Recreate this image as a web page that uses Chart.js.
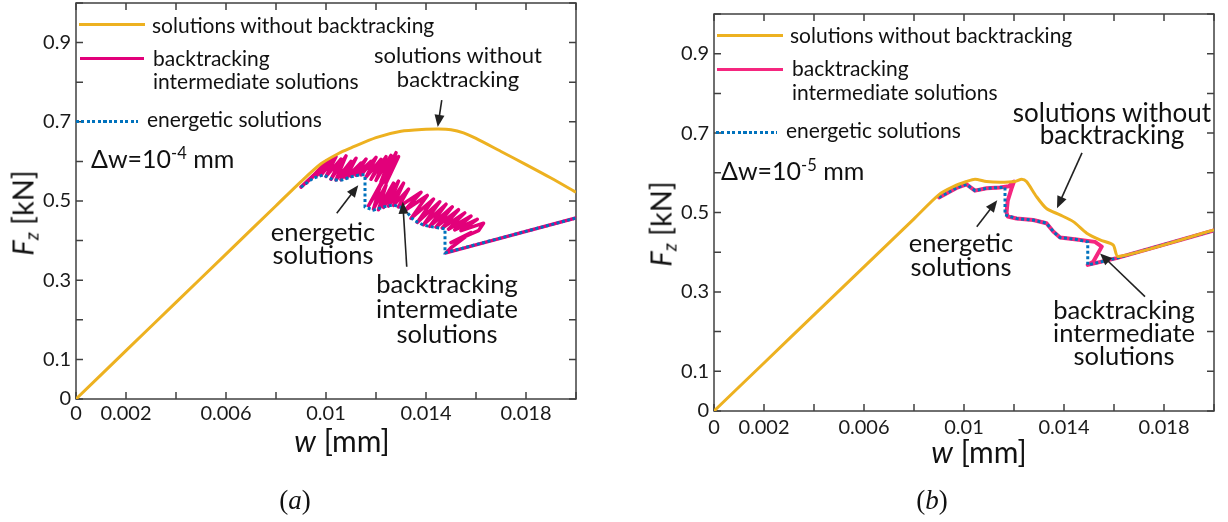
<!DOCTYPE html>
<html>
<head>
<meta charset="utf-8">
<script src="https://cdn.jsdelivr.net/npm/chart.js@4.4.0/dist/chart.umd.min.js"></script>
<style>
  body { margin: 0; background: #fff; }
  #wrap { position: relative; width: 1228px; height: 522px; overflow: hidden; font-family: Lato, sans-serif; color: #111; }
  canvas { position: absolute; top: 0; }
  .t { position: absolute; white-space: nowrap; line-height: 1; }
  .c { transform: translate(-50%, -50%); text-align: center; }
  .l { transform: translateY(-50%); }
  .key { position: absolute; height: 3px; }
  .orange { background: #EDB120; }
  .pinkA { background: #E2007A; }
  .pinkB { background: #F5267F; }
  .dots { background: repeating-linear-gradient(90deg, #0072BD 0 3px, transparent 3px 5.5px); }
  .serif { font-family: "Liberation Serif", serif; font-size: 27px; }
  .ylab { transform: translate(-50%, -50%) rotate(-90deg); }
  sup { font-size: 0.66em; vertical-align: 0.5em; line-height: 0; }
  sub { font-size: 0.65em; vertical-align: -0.25em; line-height: 0; }
</style>
</head>
<body>
<div id="wrap">
  <canvas id="chartA" width="614" height="522" style="left:0"></canvas>
  <canvas id="chartB" width="614" height="522" style="left:614px"></canvas>

  <!-- panel (a) legend and notes -->
  <div class="key orange" style="left:79px; top:23px; width:66px"></div>
  <div class="t l" style="left:152px; top:24px; font-size:21px">solutions without backtracking</div>
  <div class="key pinkA" style="left:80px; top:57px; width:64px"></div>
  <div class="t l" style="left:153px; top:69px; font-size:21px; line-height:23px">backtracking<br>intermediate solutions</div>
  <div class="key dots" style="left:76px; top:120px; width:62px"></div>
  <div class="t l" style="left:147px; top:118px; font-size:21px">energetic solutions</div>
  <div class="t l" style="left:91px; top:158px; font-size:25px">&Delta;w=10<sup>-4</sup> mm</div>

  <div class="t c" style="left:458px; top:67px; font-size:22px; line-height:24px">solutions without<br>backtracking</div>
  <div class="t c" style="left:323px; top:243px; font-size:25.5px; line-height:23px">energetic<br>solutions</div>
  <div class="t c" style="left:447px; top:308px; font-size:25.5px; line-height:25px">backtracking<br>intermediate<br>solutions</div>

  <div class="t c" style="left:342px; top:440px; font-size:30px"><i>w</i> [mm]</div>
  <div class="t ylab" style="left:22px; top:213px; font-size:29px"><i>F<sub>z</sub></i> [kN]</div>
  <div class="t c serif" style="left:295px; top:500px">(<i>a</i>)</div>

  <!-- panel (b) legend and notes -->
  <div class="key orange" style="left:717px; top:34px; width:66px"></div>
  <div class="t l" style="left:790px; top:34px; font-size:21px">solutions without backtracking</div>
  <div class="key pinkB" style="left:717px; top:68px; width:66px"></div>
  <div class="t l" style="left:792px; top:80px; font-size:21px; line-height:24px">backtracking<br>intermediate solutions</div>
  <div class="key dots" style="left:716px; top:131px; width:61px"></div>
  <div class="t l" style="left:786px; top:129px; font-size:21px">energetic solutions</div>
  <div class="t l" style="left:721px; top:170px; font-size:25px">&Delta;w=10<sup>-5</sup> mm</div>

  <div class="t c" style="left:1112px; top:123px; font-size:26px; line-height:22px">solutions without<br>backtracking</div>
  <div class="t c" style="left:961px; top:254px; font-size:25.5px; line-height:24px">energetic<br>solutions</div>
  <div class="t c" style="left:1124px; top:332px; font-size:25.5px; line-height:23px">backtracking<br>intermediate<br>solutions</div>

  <div class="t c" style="left:979px; top:451px; font-size:30px"><i>w</i> [mm]</div>
  <div class="t ylab" style="left:660px; top:224px; font-size:29px"><i>F<sub>z</sub></i> [kN]</div>
  <div class="t c serif" style="left:932px; top:500px">(<i>b</i>)</div>
</div>

<script>
// tick labels (empty = minor tick only)
const xTickLabels = ['0', '0.002', '', '0.006', '', '0.01', '', '0.014', '', '0.018', ''];
const yTickLabels = ['0', '0.1', '', '0.3', '', '0.5', '', '0.7', '', '0.9', ''];

// (a)  dw = 1e-4 mm
const orangeAw = [0, 0.002, 0.004, 0.006, 0.008, 0.009, 0.0098, 0.0105, 0.011, 0.012, 0.013, 0.014, 0.0145, 0.015, 0.0155, 0.016, 0.017, 0.018, 0.019, 0.02];
const orangeAF = [0, 0.122, 0.244, 0.366, 0.488, 0.549, 0.594, 0.620, 0.634, 0.660, 0.676, 0.681, 0.682, 0.680, 0.672, 0.658, 0.625, 0.592, 0.558, 0.522];

const blueAw = [0.0090, 0.0095, 0.0099, 0.0103, 0.01064, 0.0110, 0.01136, 0.01156, 0.01156, 0.0119, 0.0123, 0.0127, 0.0131, 0.0135, 0.0139, 0.0143, 0.01476, 0.01476, 0.0200];
const blueAF = [0.535, 0.558, 0.566, 0.553, 0.553, 0.561, 0.566, 0.566, 0.485, 0.477, 0.485, 0.490, 0.482, 0.452, 0.439, 0.434, 0.430, 0.369, 0.457];

const pinkAw = [
  0.0090, 0.0095, 0.0092, 0.0098, 0.0094, 0.0100, 0.0096, 0.0102, 0.0098, 0.0104, 0.0100, 0.0106, 0.0102, 0.0108,
  0.0104, 0.0110, 0.0106, 0.0112, 0.0108, 0.0114, 0.0110, 0.0116, 0.0112, 0.0118, 0.0114, 0.0120,
  0.0116, 0.0122, 0.0118, 0.0124, 0.0120, 0.0126, 0.0122, 0.0128, 0.0124, 0.0129,
  0.0117, 0.0122, 0.0119, 0.0124, 0.0121, 0.0127, 0.0123, 0.0129, 0.0125, 0.0131, 0.0127, 0.0133,
  0.0129, 0.0138, 0.01315, 0.01405, 0.0134, 0.0143, 0.01365, 0.01455, 0.0139, 0.0148, 0.01415, 0.01505,
  0.0144, 0.0153, 0.01465, 0.01555, 0.0149, 0.0158, 0.01515, 0.01605, 0.0154, 0.0163,
  0.0161, 0.0150, 0.0158, 0.0150, 0.0148, 0.0200];
const pinkAF = [
  0.535, 0.565, 0.545, 0.585, 0.556, 0.600, 0.562, 0.605, 0.565, 0.612, 0.562, 0.606, 0.555, 0.614,
  0.553, 0.600, 0.554, 0.608, 0.558, 0.596, 0.562, 0.606, 0.565, 0.600, 0.566, 0.610,
  0.560, 0.605, 0.555, 0.612, 0.552, 0.615, 0.548, 0.622, 0.545, 0.612,
  0.488, 0.545, 0.480, 0.540, 0.478, 0.545, 0.484, 0.550, 0.487, 0.545, 0.489, 0.530,
  0.485, 0.522, 0.476, 0.514, 0.456, 0.505, 0.446, 0.498, 0.440, 0.492, 0.436, 0.485,
  0.434, 0.478, 0.432, 0.470, 0.429, 0.462, 0.427, 0.454, 0.425, 0.444,
  0.425, 0.395, 0.420, 0.382, 0.369, 0.457];

// (b)  dw = 1e-5 mm
const orangeBw = [0, 0.002, 0.004, 0.006, 0.008, 0.009, 0.00957, 0.0101, 0.01044, 0.0109, 0.01144, 0.01204, 0.01231, 0.0125, 0.0129, 0.0133, 0.01384, 0.01437, 0.01491, 0.01544, 0.01597, 0.01617, 0.02];
const orangeBF = [0, 0.121, 0.242, 0.363, 0.484, 0.545, 0.565, 0.578, 0.584, 0.578, 0.576, 0.578, 0.584, 0.578, 0.540, 0.510, 0.494, 0.477, 0.448, 0.431, 0.418, 0.389, 0.456];

const blueBw = [0.0090, 0.0097, 0.0101, 0.01044, 0.0109, 0.01144, 0.01164, 0.01164, 0.0121, 0.01277, 0.0133, 0.01357, 0.01384, 0.01451, 0.01495, 0.01495, 0.0161, 0.0200];
const blueBF = [0.538, 0.562, 0.571, 0.555, 0.561, 0.563, 0.563, 0.494, 0.485, 0.481, 0.473, 0.452, 0.437, 0.432, 0.426, 0.368, 0.385, 0.455];

const pinkBw = [0.0090, 0.0097, 0.0101, 0.01044, 0.0109, 0.01144, 0.0118, 0.0120, 0.0119, 0.01175, 0.0117, 0.01175, 0.0121, 0.01277, 0.0133, 0.01357, 0.01384, 0.01451, 0.01524, 0.01551, 0.01517, 0.01495, 0.0161, 0.0200];
const pinkBF = [0.538, 0.562, 0.571, 0.555, 0.561, 0.563, 0.566, 0.578, 0.560, 0.530, 0.500, 0.490, 0.485, 0.481, 0.473, 0.452, 0.437, 0.432, 0.426, 0.414, 0.376, 0.368, 0.385, 0.455];

// annotation arrows, [w tail, F tail, w tip, F tip]
const arrowsA = [[0.01463, 0.755, 0.01447, 0.687], [0.01043, 0.469, 0.01129, 0.540], [0.01323, 0.334, 0.01307, 0.498]];
const arrowsB = [[0.01472, 0.650, 0.01372, 0.511], [0.01051, 0.464, 0.01133, 0.531], [0.01724, 0.288, 0.01544, 0.397]];

const ORANGE = '#EDB120', BLUE = '#0072BD';

const pts = (ws, fs) => ws.map((w, i) => ({ x: w, y: fs[i] }));

const framePlugin = {
  id: 'frame',
  beforeDatasetsDraw(chart) {
    const { ctx, chartArea: a, scales: { x, y } } = chart;
    ctx.save();
    ctx.strokeStyle = '#404040';
    ctx.lineWidth = 1.5;
    ctx.strokeRect(a.left, a.top, a.right - a.left, a.bottom - a.top);
    ctx.beginPath();
    x.ticks.forEach(t => {
      const p = x.getPixelForValue(t.value);
      ctx.moveTo(p, a.bottom); ctx.lineTo(p, a.bottom - 7);
      ctx.moveTo(p, a.top); ctx.lineTo(p, a.top + 7);
    });
    y.ticks.forEach(t => {
      const p = y.getPixelForValue(t.value);
      ctx.moveTo(a.left, p); ctx.lineTo(a.left + 7, p);
      ctx.moveTo(a.right, p); ctx.lineTo(a.right - 7, p);
    });
    ctx.stroke();
    ctx.restore();
  },
  afterDatasetsDraw(chart, args, opts) {
    const { ctx, scales: { x, y } } = chart;
    ctx.save();
    ctx.strokeStyle = '#222';
    ctx.fillStyle = '#222';
    ctx.lineWidth = 1.6;
    (opts.arrows || []).forEach(([w1, f1, w2, f2]) => {
      const x1 = x.getPixelForValue(w1), y1 = y.getPixelForValue(f1);
      const x2 = x.getPixelForValue(w2), y2 = y.getPixelForValue(f2);
      const ang = Math.atan2(y2 - y1, x2 - x1);
      const L = 12, W = 5;
      ctx.beginPath();
      ctx.moveTo(x1, y1);
      ctx.lineTo(x2 - L * 0.8 * Math.cos(ang), y2 - L * 0.8 * Math.sin(ang));
      ctx.stroke();
      ctx.beginPath();
      ctx.moveTo(x2, y2);
      ctx.lineTo(x2 - L * Math.cos(ang) + W * Math.sin(ang), y2 - L * Math.sin(ang) - W * Math.cos(ang));
      ctx.lineTo(x2 - L * Math.cos(ang) - W * Math.sin(ang), y2 - L * Math.sin(ang) + W * Math.cos(ang));
      ctx.closePath();
      ctx.fill();
    });
    ctx.restore();
  }
};

Chart.defaults.font.family = 'Lato';
Chart.defaults.color = '#1a1a1a';

function makeChart(id, data, pink, arrows, padding, xPad) {
  return new Chart(document.getElementById(id), {
    type: 'scatter',
    data: {
      datasets: [
        { label: 'solutions without backtracking', data: pts(data.ow, data.of), borderColor: ORANGE, borderWidth: 3, tension: 0.25 },
        { label: 'energetic solutions', data: pts(data.bw, data.bf), borderColor: BLUE, borderWidth: 3, borderDash: [3, 2.5] },
        { label: 'backtracking intermediate solutions', data: pts(data.pw, data.pf), borderColor: pink, borderWidth: data.pinkWidth, borderJoinStyle: 'round', borderCapStyle: 'round' }
      ].map(d => Object.assign(d, { showLine: true, pointRadius: 0, pointHoverRadius: 0 }))
    },
    options: {
      responsive: false,
      animation: false,
      devicePixelRatio: 1,
      layout: { padding },
      plugins: { legend: { display: false }, tooltip: { enabled: false }, frame: { arrows } },
      scales: {
        x: {
          type: 'linear', min: 0, max: 0.02,
          grid: { display: false, drawTicks: false },
          border: { display: false },
          ticks: { stepSize: 0.002, padding: xPad, maxRotation: 0, autoSkip: false, font: { size: 20 },
                   callback: (v, i) => xTickLabels[i] },
          afterFit: s => { s.height = 40; s.paddingLeft = 0; s.paddingRight = 0; }
        },
        y: {
          type: 'linear', min: 0, max: 1,
          grid: { display: false, drawTicks: false },
          border: { display: false },
          ticks: { stepSize: 0.1, padding: 5, autoSkip: false, font: { size: 20 },
                   callback: (v, i) => yTickLabels[i] },
          afterFit: s => { s.width = 76; s.paddingTop = 0; s.paddingBottom = 0; }
        }
      }
    },
    plugins: [framePlugin]
  });
}

makeChart('chartA',
  { ow: orangeAw, of: orangeAF, bw: blueAw, bf: blueAF, pw: pinkAw, pf: pinkAF, pinkWidth: 3.5 },
  '#E2007A', arrowsA, { left: 0, top: 3, right: 38, bottom: 83 }, 3);

makeChart('chartB',
  { ow: orangeBw, of: orangeBF, bw: blueBw, bf: blueBF, pw: pinkBw, pf: pinkBF, pinkWidth: 4 },
  '#F5267F', arrowsB, { left: 24, top: 14, right: 14, bottom: 71 }, 5);
</script>
</body>
</html>
